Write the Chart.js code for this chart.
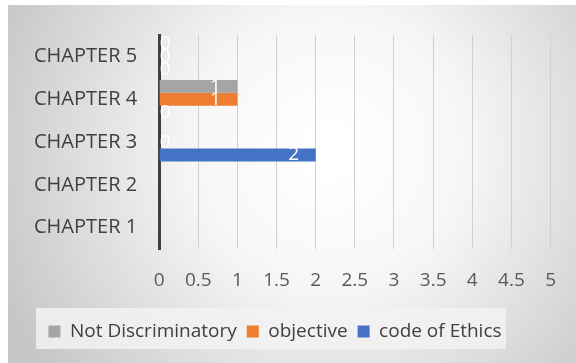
<!DOCTYPE html>
<html>
<head>
<meta charset="utf-8">
<script src="https://cdn.jsdelivr.net/npm/chart.js@4.4.1/dist/chart.umd.min.js"></script>
<style>
  html, body { margin: 0; padding: 0; background: #fff; }
  #wrap { width: 576px; height: 363px; position: relative; }
</style>
</head>
<body>
<div id="wrap"><canvas id="bar-chart" width="576" height="363"></canvas></div>
<script>
// ---------------------------------------------------
const chapters = [ 'CHAPTER 1', 'CHAPTER 2', 'CHAPTER 3', 'CHAPTER 4', 'CHAPTER 5' ];
const codeOfEthics = [ null, null, 2, 0, 0 ];
const objective = [ null, null, 0, 1, 0 ];
const notDiscriminatory = [ null, null, null, 1, 0 ];
const xTicks = [ 0, 0.5, 1, 1.5, 2, 2.5, 3, 3.5, 4, 4.5, 5 ];
// ---------------------------------------------------
const FONT = 'Open Sans';

// gray radial background behind everything + legend box
const backdrop = {
    id: 'backdrop',
    afterLayout( chart ) {
        // legend box in the original sits a little left of centre
        chart.legend.left -= 12;
        chart.legend.right -= 12;
    },
    beforeDraw( chart ) {
        const ctx = chart.ctx;
        ctx.save();
        ctx.fillStyle = '#ffffff';
        ctx.fillRect( 0, 0, chart.width, chart.height );
        const g = ctx.createRadialGradient( 330, 150, 20, 330, 150, 360 );
        g.addColorStop( 0, '#ffffff' );
        g.addColorStop( 0.35, '#f6f6f6' );
        g.addColorStop( 1, '#c6c6c6' );
        ctx.fillStyle = g;
        ctx.fillRect( 8, 5, chart.width - 8, chart.height - 5 );
        const lg = chart.legend;
        ctx.fillStyle = 'rgba(242,242,242,0.85)';
        ctx.fillRect( 36, lg.top - 4, 470, lg.height + 2 );
        ctx.restore();
    }
};

// white value labels at the inside end of each bar
const valueLabels = {
    id: 'valueLabels',
    afterDatasetsDraw( chart ) {
        const ctx = chart.ctx;
        ctx.save();
        ctx.fillStyle = '#ffffff';
        ctx.font = '19px "' + FONT + '"';
        ctx.textBaseline = 'middle';
        ctx.textAlign = 'center';
        chart.data.datasets.forEach( ( ds, i ) => {
            chart.getDatasetMeta( i ).data.forEach( ( bar, j ) => {
                const v = ds.data[ j ];
                if ( v === null || v === undefined ) return;
                const x = v === 0 ? bar.base + 6 : bar.x - 22;
                ctx.fillText( String( v ), x, bar.y );
            });
        });
        ctx.restore();
    }
};

const barChart = new Chart( document.querySelector( '#bar-chart' ), {
    type: 'bar',
    data: {
        labels: chapters,
        datasets: [
            { label: 'Not Discriminatory', data: notDiscriminatory, backgroundColor: '#a5a5a5' },
            { label: 'objective', data: objective, backgroundColor: '#ed7d31' },
            { label: 'code of Ethics', data: codeOfEthics, backgroundColor: '#4472c4' }
        ]
    },
    options: {
        responsive: false,
        animation: false,
        indexAxis: 'y',
        layout: { padding: { left: 12, right: 14, top: 35, bottom: 12 } },
        datasets: { bar: { categoryPercentage: 0.9, barPercentage: 1 } },
        scales: {
            x: {
                min: 0, max: 5,
                afterBuildTicks( axis ) { axis.ticks = xTicks.map( v => ( { value: v } ) ); },
                grid: { color: '#d0d0d0', drawTicks: false },
                border: { display: false },
                ticks: {
                    color: '#595959', padding: 20,
                    font: { family: FONT, size: 19 },
                    callback: v => String( v )
                }
            },
            y: {
                reverse: true,
                grid: { display: false, drawTicks: false },
                border: { display: true, color: '#404040', width: 3 },
                ticks: { color: '#404040', padding: 22, font: { family: FONT, size: 20 } }
            }
        },
        plugins: {
            legend: {
                position: 'bottom',
                labels: {
                    color: '#404040',
                    boxWidth: 12, boxHeight: 12,
                    padding: 10,
                    font: { family: FONT, size: 19 }
                }
            },
            tooltip: { enabled: false }
        }
    },
    plugins: [ backdrop, valueLabels ]
});
// ---------------------------------------------------
</script>
</body>
</html>
